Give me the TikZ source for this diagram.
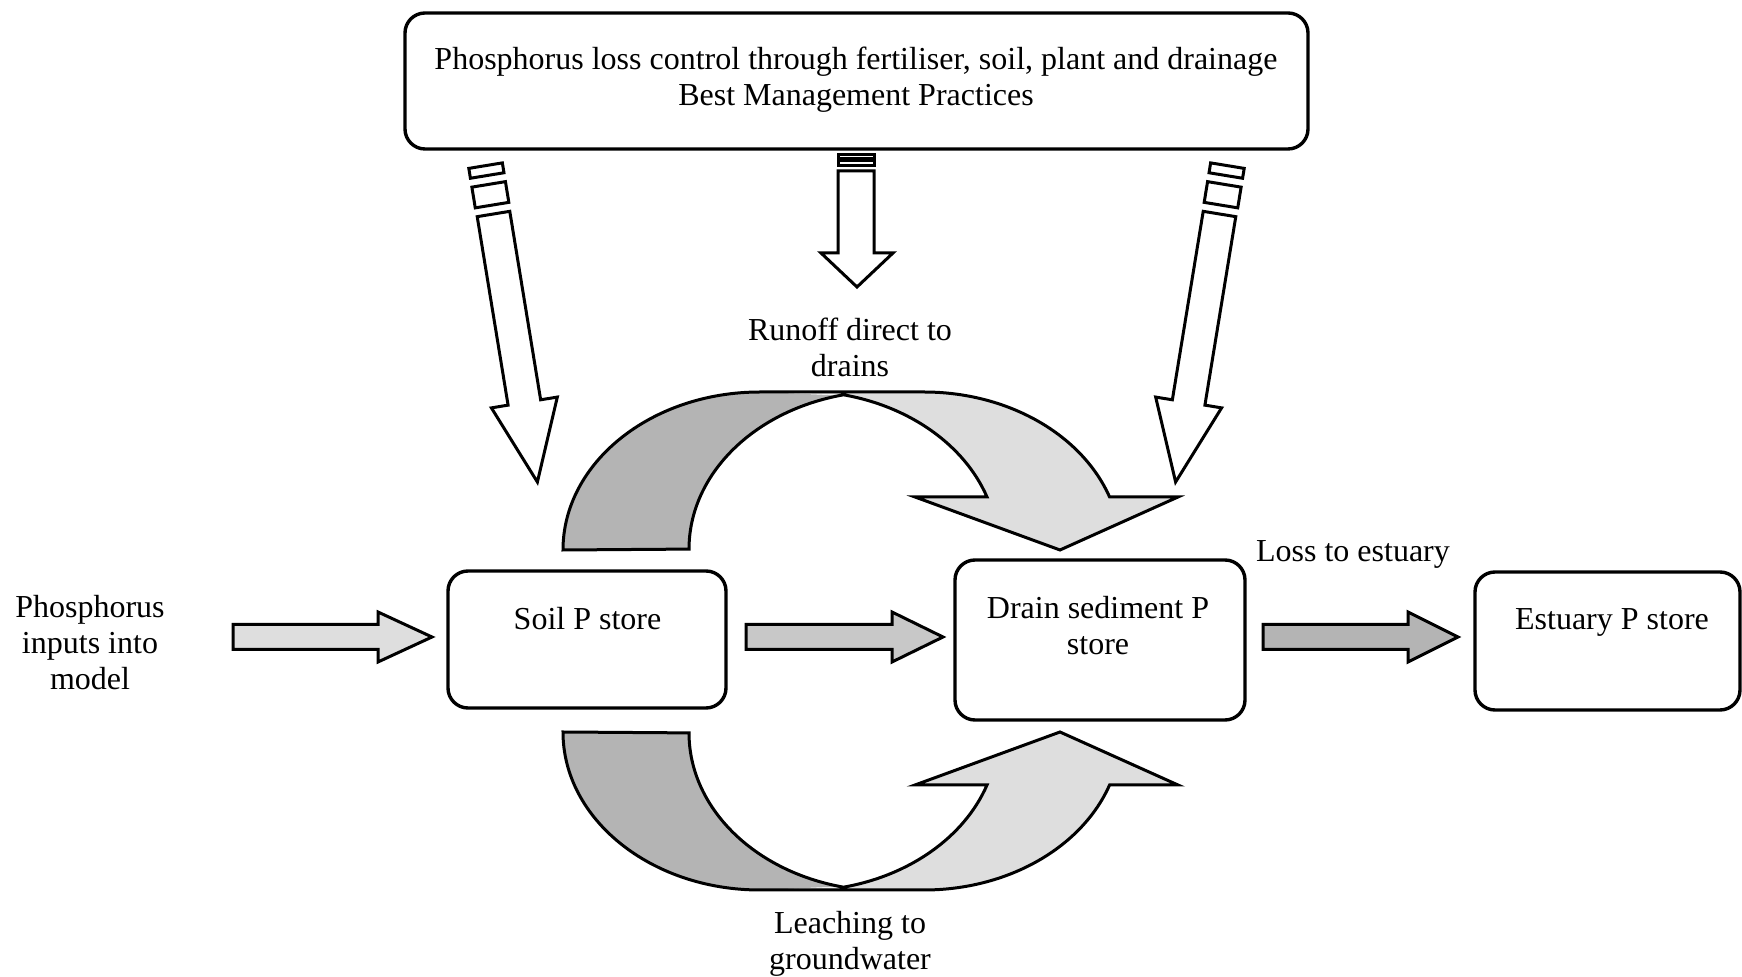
\documentclass[tikz,border=0pt]{standalone}
\usepackage{fontspec}
\setmainfont{Liberation Serif}
\definecolor{lightfill}{HTML}{DEDEDE}
\definecolor{midfill}{HTML}{C8C8C8}
\definecolor{darkfill}{HTML}{B4B4B4}
% curved block arrow: bands between translated copies of one ellipse (197 x 158)
\newcommand{\curvedband}{%
  \fill[lightfill] (760,392) -- (924,392)
      arc[start angle=270, end angle=340.4, x radius=197, y radius=158]
      -- (1178,497) -- (1060,550) -- (915,497) -- (987,497)
      arc[start angle=340.75, end angle=282.46, x radius=197, y radius=158] -- cycle;
  \fill[darkfill] (563,550)
      arc[start angle=180, end angle=270, x radius=197, y radius=158]
      -- (843.5,395.7)
      arc[start angle=257.54, end angle=180, x radius=197, y radius=158] -- cycle;
  \draw[blk] (563,550)
      arc[start angle=180, end angle=270, x radius=197, y radius=158]
      -- (924,392)
      arc[start angle=270, end angle=340.4, x radius=197, y radius=158]
      -- (1178,497) -- (1060,550) -- (915,497) -- (987,497)
      arc[start angle=340.75, end angle=282.46, x radius=197, y radius=158]
      arc[start angle=257.54, end angle=180, x radius=197, y radius=158] -- cycle;
}
\newcommand{\stripedarrow}{%
  \filldraw[blk, fill=white] (-17,-49) rectangle (17,-39);
  \filldraw[blk, fill=white] (-17,-30) rectangle (17,-9);
  \filldraw[blk, fill=white] (-16.5,0) -- (16.5,0) -- (16.5,191) -- (33.4,191) -- (0,271.6)
      -- (-33.4,191) -- (-16.5,191) -- cycle;
}
\newcommand{\harrow}[4]{%
  \filldraw[blk, fill=#4] (#1,624.5) -- (#2,624.5) -- (#2,612) -- (#3,637) -- (#2,662)
      -- (#2,649.5) -- (#1,649.5) -- cycle;
}
\begin{document}
\begin{tikzpicture}[x=0.5pt, y=-0.5pt,
  box/.style={draw, line width=1.7pt, rounded corners=10pt, inner sep=0pt},
  lbl/.style={font=\fontsize{16}{18}\selectfont, inner sep=0pt, align=center, anchor=base},
  blk/.style={draw, line width=1.5pt, line join=miter}]
\useasboundingbox (0,0) rectangle (1742,977);

% boxes
\node[box, minimum width=451.5pt, minimum height=68pt] (bmp) at (856.5,81) {};
\node[box, minimum width=139pt, minimum height=68.5pt] (soil) at (587,639.5) {};
\node[box, minimum width=145pt, minimum height=80pt] (drain) at (1100,640) {};
\node[box, minimum width=132.5pt, minimum height=69pt] (estuary) at (1607.5,641) {};

% texts (anchor = baseline of the last line)
\node[lbl] (bmptext) at (856,105.5) {Phosphorus loss control through fertiliser, soil, plant and drainage\\Best Management Practices};
\node[lbl] (soiltext) at (587.5,630) {Soil P store};
\node[lbl] (draintext) at (1098,655) {Drain sediment P\\store};
\node[lbl] (estuarytext) at (1612,630) {Estuary P store};
\node[lbl] (inputs) at (90,690) {Phosphorus\\inputs into\\model};
\node[lbl] (runoff) at (850,376.5) {Runoff direct to\\drains};
\node[lbl] (leach) at (850,969.5) {Leaching to\\groundwater};
\node[lbl] (loss) at (1353,561.5) {Loss to estuary};

% horizontal block arrows
\harrow{233}{378}{432}{lightfill}
\harrow{746}{892}{943}{midfill}
\harrow{1263}{1408}{1458}{darkfill}

% curved arrows
\curvedband
\begin{scope}[shift={(0,1282)}, yscale=-1]
  \curvedband
\end{scope}

% striped arrows from the BMP box
\begin{scope}[shift={(493.5,214)}, rotate=9.3]
  \stripedarrow
\end{scope}
\begin{scope}[shift={(1219.5,214)}, rotate=-9.3]
  \stripedarrow
\end{scope}
\filldraw[blk, fill=white] (838,155) rectangle (874,158.5);
\filldraw[blk, fill=white] (838,161) rectangle (874,165.5);
\filldraw[blk, fill=white] (838,171) -- (874,171) -- (874,253) -- (893,253) -- (857,287)
    -- (821,253) -- (838,253) -- cycle;
\end{tikzpicture}
\end{document}
